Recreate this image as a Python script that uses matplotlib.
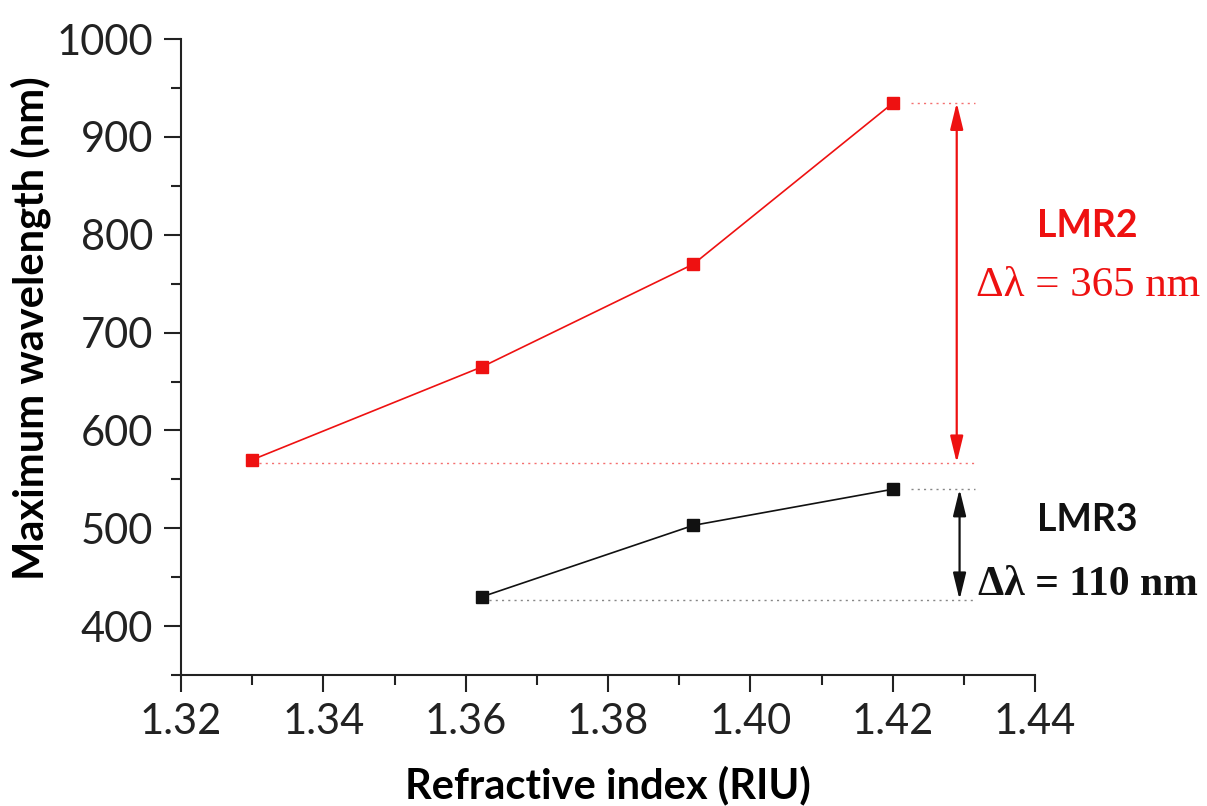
import matplotlib.pyplot as plt
from matplotlib.ticker import MultipleLocator

# LMR2 (red) and LMR3 (black) resonance peak positions
ri_lmr2 = [1.330, 1.3623, 1.392, 1.4201]
wl_lmr2 = [570, 665, 770, 935]
ri_lmr3 = [1.3623, 1.392, 1.4201]
wl_lmr3 = [430, 503, 540]

shift_lmr2 = 365
shift_lmr3 = 110
arrow_x = 1.429
guide_end = 1.4315

red = '#ee1111'
dark = '#111111'

plt.rcParams['font.family'] = ['Lato', 'DejaVu Sans']

fig = plt.figure(figsize=(12.07, 8.06), dpi=100)
ax = fig.add_axes([0.15, 0.1625, 0.7075, 0.789])

ax.plot(ri_lmr2, wl_lmr2, color=red, lw=1.2, marker='s', ms=8.5, mec=red, mfc=red)
ax.plot(ri_lmr3, wl_lmr3, color=dark, lw=1.2, marker='s', ms=8.5, mec=dark, mfc=dark)

# dotted guide lines at min / max of each curve
dots = (0, (1.5, 3))
ax.plot([ri_lmr2[0] + 0.001, guide_end], [wl_lmr2[0] - 3] * 2, ls=dots, color=red, lw=1, alpha=0.6)
ax.plot([ri_lmr2[-1] + 0.0025, guide_end], [wl_lmr2[-1]] * 2, ls=dots, color=red, lw=1, alpha=0.6)
ax.plot([ri_lmr3[0] + 0.001, guide_end], [wl_lmr3[0] - 3] * 2, ls=dots, color=dark, lw=1, alpha=0.5)
ax.plot([ri_lmr3[-1] + 0.0025, guide_end], [wl_lmr3[-1]] * 2, ls=dots, color=dark, lw=1, alpha=0.5)

arrow_style = dict(arrowstyle='<|-|>,head_length=0.9,head_width=0.22', lw=1.6,
                   mutation_scale=18, shrinkA=0, shrinkB=0)
ax.annotate('', xy=(arrow_x, wl_lmr2[-1]), xytext=(arrow_x, wl_lmr2[0] - 3),
            arrowprops=dict(color=red, **arrow_style))
ax.annotate('', xy=(arrow_x + 0.0004, wl_lmr3[-1]), xytext=(arrow_x + 0.0004, wl_lmr3[0] - 3),
            arrowprops=dict(color=dark, **arrow_style))

ax.text(1.4474, 809, 'LMR2', color=red, fontsize=27, fontweight='bold', ha='center', va='center')
ax.text(1.4474, 748, 'Δλ = %d nm' % shift_lmr2, color=red, fontsize=31,
        family='Liberation Serif', ha='center', va='center')
ax.text(1.4473, 508, 'LMR3', color=dark, fontsize=27, fontweight='bold', ha='center', va='center')
ax.text(1.4474, 442, 'Δλ = %d nm' % shift_lmr3, color=dark, fontsize=30,
        family='Liberation Serif', fontweight='bold', ha='center', va='center')

ax.set_xlim(1.32, 1.44)
ax.set_ylim(350, 1000)
ax.xaxis.set_major_locator(MultipleLocator(0.02))
ax.xaxis.set_minor_locator(MultipleLocator(0.01))
ax.yaxis.set_major_locator(MultipleLocator(100))
ax.yaxis.set_minor_locator(MultipleLocator(50))
ax.xaxis.set_major_formatter(plt.FuncFormatter(lambda v, p: '%.2f' % v))

for s in ['top', 'right']:
    ax.spines[s].set_visible(False)
for s in ['left', 'bottom']:
    ax.spines[s].set_linewidth(1.5)
    ax.spines[s].set_color('#222222')

ax.tick_params(which='major', length=12, width=1.5, labelsize=30, color='#222222', labelcolor='#222222', pad=8)
ax.tick_params(which='minor', length=7, width=1.5, color='#222222')

ax.set_xlabel('Refractive index (RIU)', fontsize=30, fontweight='bold', labelpad=18)
ax.set_ylabel('Maximum wavelength (nm)', fontsize=30, fontweight='bold')
ax.yaxis.set_label_coords(-0.152, 0.545)

fig.savefig('out.png', dpi=100)
